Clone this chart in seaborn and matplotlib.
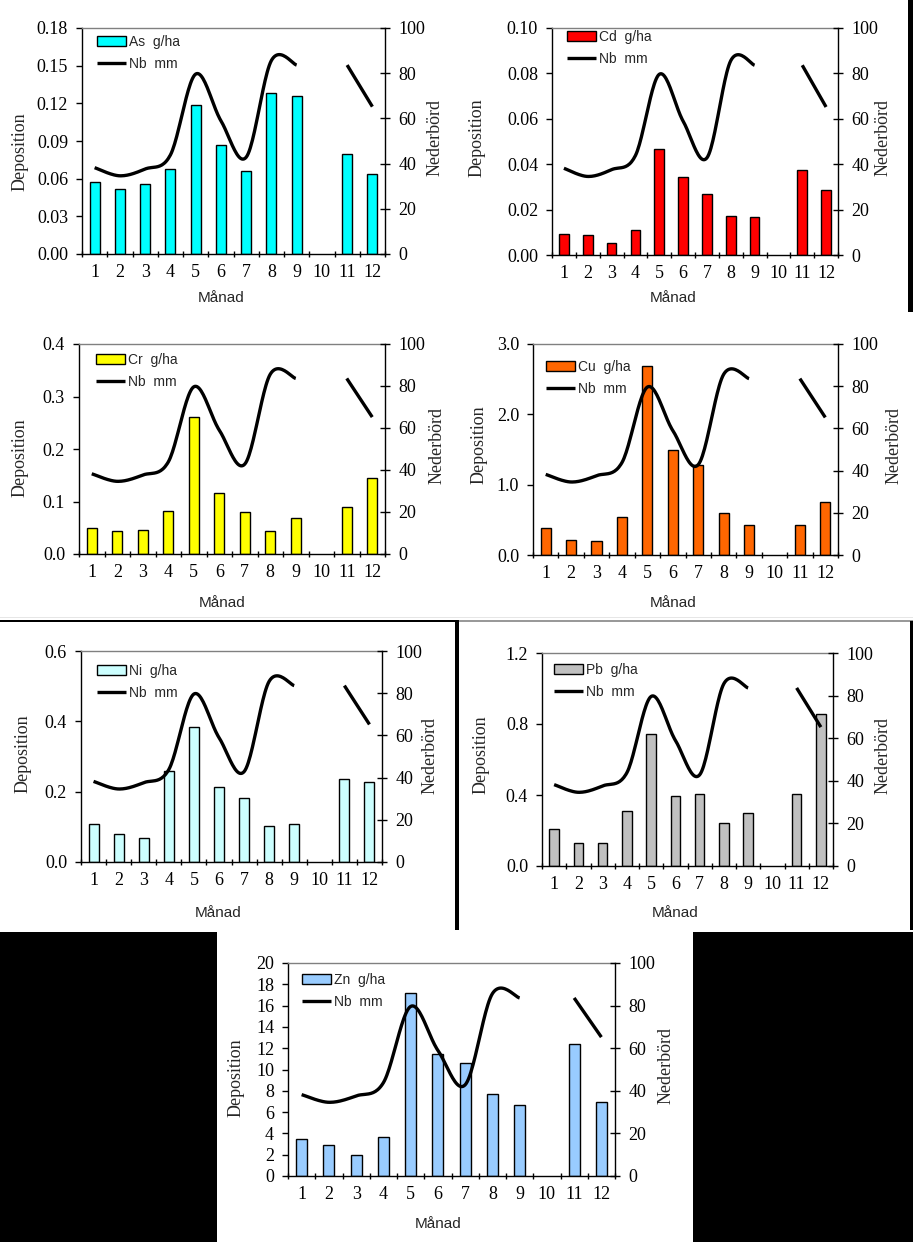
import numpy as np
import pandas as pd
import seaborn as sns
import matplotlib
matplotlib.use("Agg")
import matplotlib.pyplot as plt
from matplotlib.patches import Rectangle
from matplotlib.ticker import FormatStrFormatter

# Data (month 10 missing)
months = list(range(1, 13))
nb_mm = [38.2, 34.6, 37.6, 43.8, 79.6, 59.0, 42.8, 85.6, 83.6, np.nan, 83.6, 65.2]

as_gha = [0.057, 0.052, 0.0555, 0.068, 0.119, 0.0865, 0.066, 0.128, 0.1255, np.nan, 0.080, 0.064]
cd_gha = [0.0093, 0.0086, 0.0053, 0.0108, 0.0468, 0.0345, 0.0267, 0.0172, 0.0169, np.nan, 0.0376, 0.0288]
cr_gha = [0.050, 0.043, 0.045, 0.082, 0.261, 0.116, 0.080, 0.044, 0.068, np.nan, 0.090, 0.145]
cu_gha = [0.385, 0.215, 0.205, 0.546, 2.69, 1.495, 1.28, 0.603, 0.422, np.nan, 0.427, 0.76]
ni_gha = [0.107, 0.081, 0.068, 0.26, 0.385, 0.212, 0.182, 0.102, 0.109, np.nan, 0.235, 0.227]
pb_gha = [0.209, 0.132, 0.132, 0.31, 0.741, 0.393, 0.406, 0.241, 0.297, np.nan, 0.406, 0.854]
zn_gha = [3.44, 2.88, 2.0, 3.69, 17.2, 11.5, 10.6, 7.66, 6.66, np.nan, 12.4, 6.97]

metals = ["As", "Cd", "Cr", "Cu", "Ni", "Pb", "Zn"]
values = [as_gha, cd_gha, cr_gha, cu_gha, ni_gha, pb_gha, zn_gha]
colors = ["#00FFFF", "#FF0000", "#FFFF00", "#FF6600", "#CCFFFF", "#C0C0C0", "#99CCFF"]
ymax = [0.18, 0.10, 0.4, 3.0, 0.6, 1.2, 20]
ystep = [0.03, 0.02, 0.1, 1.0, 0.2, 0.4, 2]
yfmt = ["%.2f", "%.2f", "%.1f", "%.1f", "%.1f", "%.1f", "%d"]

# layout in pixels: plot area (left, right, top, bottom),
# Månad centre, Deposition centre, Nederbörd centre, legend (handle left, first row centre)
layout = [
    dict(box=(82, 385, 28, 254), man=(221, 298), dep=(20, 152), ned=(435, 138), leg=(97, 44)),
    dict(box=(552, 838, 28, 255), man=(673, 298), dep=(477, 138), ned=(883, 138), leg=(567, 39)),
    dict(box=(79, 385, 344, 554), man=(222, 603), dep=(20, 458), ned=(437, 445), leg=(96, 362)),
    dict(box=(533, 838, 344, 555), man=(673, 603), dep=(479, 445), ned=(894, 445), leg=(546, 369)),
    dict(box=(81, 382, 651, 862), man=(218, 913), dep=(23, 754), ned=(430, 756), leg=(97, 673)),
    dict(box=(542, 833, 653, 866), man=(675, 913), dep=(481, 755), ned=(883, 756), leg=(554, 672)),
    dict(box=(288, 615, 963, 1176), man=(438, 1224), dep=(236, 1078), ned=(666, 1066), leg=(302, 982)),
]

W, H = 913, 1242

sns.set_theme(style="white")
plt.rcParams["font.family"] = ["Liberation Serif", "DejaVu Serif"]
SANS = ["Liberation Sans", "DejaVu Sans"]


def smooth(xs, ys, n=25):
    # Excel-style smoothed line (Bezier through the points)
    pts = np.column_stack([xs, ys])
    out = []
    for i in range(len(pts) - 1):
        p0 = pts[i - 1] if i > 0 else pts[i]
        p1, p2 = pts[i], pts[i + 1]
        p3 = pts[i + 2] if i + 2 < len(pts) else pts[i + 1]
        c1 = p1 + (p2 - p0) / 6
        c2 = p2 - (p3 - p1) / 6
        t = np.linspace(0, 1, n)[:, None]
        seg = (1 - t) ** 3 * p1 + 3 * (1 - t) ** 2 * t * c1 + 3 * (1 - t) * t ** 2 * c2 + t ** 3 * p2
        out.append(seg if i == 0 else seg[1:])
    return np.vstack(out)


fig = plt.figure(figsize=(W / 100, H / 100), dpi=100)
fig.patch.set_facecolor("white")

for metal, vals, col, ym, st, fm, lay in zip(metals, values, colors, ymax, ystep, yfmt, layout):
    l, r, t, b = lay["box"]
    ax = fig.add_axes([l / W, 1 - b / H, (r - l) / W, (b - t) / H])
    df = pd.DataFrame({"Månad": months, "Dep": vals})
    sns.barplot(data=df, x="Månad", y="Dep", order=months, color=col, saturation=1,
                width=0.4, edgecolor="black", linewidth=1, errorbar=None, ax=ax)
    ax.set_xlim(-0.5, 11.5)
    ax.set_ylim(0, ym)
    ax.set_yticks(np.arange(0, ym + st / 2, st))
    ax.yaxis.set_major_formatter(FormatStrFormatter(fm))
    ax.set_xticks(range(12))
    ax.set_xticklabels([str(m) for m in months])
    ax.set_xticks(np.arange(-0.5, 12, 1), minor=True)
    ax.tick_params(axis="x", which="major", length=0, pad=7, labelsize=13, colors="black")
    ax.tick_params(axis="x", which="minor", direction="inout", length=5, width=1, color="black", bottom=True)
    ax.tick_params(axis="y", direction="out", length=4, width=1, pad=6, labelsize=13,
                   colors="black", left=True)
    for s in ["left", "bottom"]:
        ax.spines[s].set_color("black")
        ax.spines[s].set_linewidth(1)
    ax.spines["top"].set_color("#808080")
    ax.spines["top"].set_linewidth(1)
    ax.spines["right"].set_visible(False)
    ax.grid(False)

    ax2 = ax.twinx()
    ax2.set_ylim(0, 100)
    ax2.set_yticks(range(0, 101, 20))
    ax2.tick_params(axis="y", direction="inout", length=7, width=1, pad=6, labelsize=13,
                    colors="black", right=True)
    for s in ["left", "top", "bottom"]:
        ax2.spines[s].set_visible(False)
    ax2.spines["right"].set_color("black")
    ax2.spines["right"].set_linewidth(1)
    ax2.grid(False)

    # precipitation line, broken where a month is missing
    x = np.arange(12, dtype=float)
    y = np.array(nb_mm, dtype=float)
    ok = ~np.isnan(y)
    breaks = np.where(np.diff(ok.astype(int)) != 0)[0] + 1
    line = None
    for seg in np.split(np.arange(12), breaks):
        seg = seg[ok[seg]]
        if len(seg) < 2:
            continue
        pts = smooth(x[seg], y[seg])
        line, = ax2.plot(pts[:, 0], pts[:, 1], color="black", lw=2.4, solid_capstyle="butt")

    # labels
    ax.set_xlabel("Månad", family=SANS, fontsize=11, va="center")
    ax.xaxis.set_label_coords((lay["man"][0] - l) / (r - l), (b - lay["man"][1]) / (b - t))
    ax.set_ylabel("Deposition", fontsize=13, va="center")
    ax.yaxis.set_label_coords((lay["dep"][0] - l) / (r - l), (b - lay["dep"][1]) / (b - t))
    ax2.set_ylabel("Nederbörd", fontsize=13, va="center", rotation=90)
    ax2.yaxis.set_label_coords((lay["ned"][0] - l) / (r - l), (b - lay["ned"][1]) / (b - t))

    lx, ly = lay["leg"]
    leg = ax2.legend([ax.containers[0], line], [f"{metal}  g/ha", "Nb  mm"],
                     loc="upper left",
                     bbox_to_anchor=((lx - l) / (r - l), (b - (ly - 9)) / (b - t)),
                     frameon=False, borderpad=0, borderaxespad=0,
                     handlelength=2.1, handletextpad=0.2, labelspacing=0.6,
                     prop={"family": SANS, "size": 10})

# black framing pieces from the pasted composite
def px_rect(x0, y0, x1, y1, color="black"):
    fig.add_artist(Rectangle((x0 / W, 1 - y1 / H), (x1 - x0) / W, (y1 - y0) / H,
                             transform=fig.transFigure, facecolor=color, edgecolor="none", zorder=10))

px_rect(908, 0, 913, 312)
px_rect(0, 617, 913, 618, color="#E6E6E6")
px_rect(0, 619.5, 458, 621.5)
px_rect(458, 620, 913, 621.5, color="#999999")
px_rect(455, 620, 459, 930)
px_rect(910, 621, 913, 930)
px_rect(0, 932, 217, 1242)
px_rect(693, 932, 913, 1242)

fig.savefig("out.png", dpi=100, facecolor="white")
